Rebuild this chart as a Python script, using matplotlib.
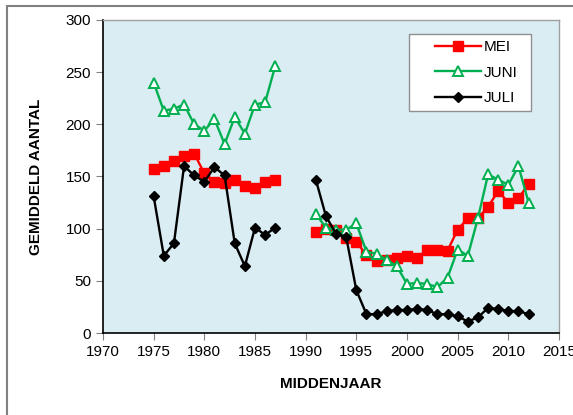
import numpy as np
import matplotlib
matplotlib.use("Agg")
import matplotlib.pyplot as plt
from matplotlib.patches import Rectangle

plt.rcParams['font.family'] = ['Liberation Sans', 'DejaVu Sans']

# years: first period and second period (gap 1988-1990)
years_a = list(range(1975, 1988))
years_b = list(range(1991, 2013))

mei_a = [157, 160, 165, 170, 172, 153, 145, 144, 147, 141, 139, 145, 147]
mei_b = [97, 100, 99, 91, 87, 75, 69, 70, 72, 74, 72, 80, 80, 79, 99, 110, 110,
         121, 136, 125, 129, 143]

juni_a = [240, 213, 215, 219, 200, 194, 205, 181, 207, 191, 219, 221, 256]
juni_b = [114, 101, 99, 99, 105, 78, 76, 70, 64, 47, 48, 47, 44, 53, 80, 74, 110,
          152, 147, 142, 160, 125]

juli_a = [131, 74, 86, 160, 151, 145, 159, 151, 86, 64, 101, 94, 101]
juli_b = [147, 112, 95, 92, 41, 18, 18, 21, 22, 22, 23, 22, 18, 18, 16, 11, 15,
          24, 23, 21, 21, 18]


def joined(a, b):
    # NaN between the two periods so the line breaks
    return np.array(a + [np.nan] + b, dtype=float)


x = joined(years_a, years_b)

fig = plt.figure(figsize=(5.73, 4.15), dpi=100)
ax = fig.add_axes([103 / 573, 1 - 333 / 415, 456 / 573, 313 / 415])
ax.set_facecolor('#DAEDF3')

ax.plot(x, joined(mei_a, mei_b), color='#FF0000', lw=1.7, marker='s',
        ms=7.5, mfc='#FF0000', mec='#FF0000', label='MEI')
ax.plot(x, joined(juni_a, juni_b), color='#00B050', lw=1.7, marker='^',
        ms=7.5, mfc='white', mec='#00B050', mew=1.4, label='JUNI')
ax.plot(x, joined(juli_a, juli_b), color='black', lw=1.7, marker='D',
        ms=5.5, mfc='black', mec='black', label='JULI')

ax.set_xlim(1970, 2015)
ax.set_ylim(0, 300)
ax.set_xticks(range(1970, 2016, 5))
ax.set_yticks(range(0, 301, 50))
ax.tick_params(direction='out', length=5, labelsize=11, color='#808080')

for s in ['left', 'bottom']:
    ax.spines[s].set_color('black')
    ax.spines[s].set_linewidth(1.2)
for s in ['top', 'right']:
    ax.spines[s].set_color('#A0A0A0')
    ax.spines[s].set_linewidth(1.0)

ax.set_xlabel('MIDDENJAAR', fontsize=11, fontweight='bold', labelpad=13)
ax.set_ylabel('GEMIDDELD AANTAL', fontsize=11, fontweight='bold', labelpad=16)

# legend box drawn separately so it can be wider than its entries
ax.add_patch(Rectangle((0.671, 0.709), 0.2676, 0.246, transform=ax.transAxes,
                       facecolor='white', edgecolor='#909090', lw=1.0,
                       zorder=4))
leg = ax.legend(loc='center left', bbox_to_anchor=(0.728, 0.832),
                borderaxespad=0, borderpad=0, frameon=False, fontsize=11,
                handlelength=3.0, handletextpad=0.2, labelspacing=0.75)
leg.set_zorder(5)

# outer chart frame (only top and left edges fall inside the image)
fig.patches.append(Rectangle((7 / 573, -0.1), 1.2, 1 - 6 / 415 + 0.1,
                             transform=fig.transFigure, fill=False,
                             edgecolor='#808080', lw=1.5))

fig.savefig('out.png', dpi=100)
